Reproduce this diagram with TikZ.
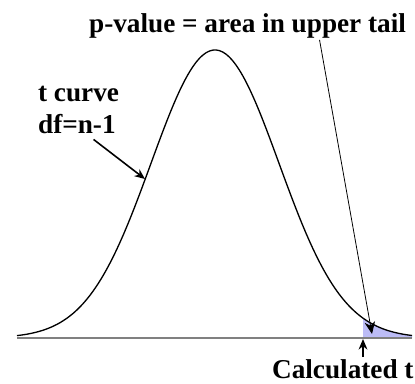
\documentclass[tikz,border=0pt]{standalone}
\usepackage{fontspec}
\setmainfont{Liberation Serif}
\usetikzlibrary{arrows.meta}
\definecolor{tailfill}{RGB}{188,188,246}

\begin{document}
\begin{tikzpicture}[x=0.02cm, y=-0.02cm,
    lbl/.style={inner sep=1pt, font=\bfseries\fontsize{15.5}{18}\selectfont},
    pointer/.style={-{Stealth[length=6pt, width=5pt]}}]
  \useasboundingbox (0,0) rectangle (415,383);

  % shaded upper tail
  \fill[tailfill] (363,338) -- plot[domain=363:412, samples=30]
    (\x, {338-288*exp(-((\x-215)/64)^2/2)}) -- (412,338) -- cycle;

  % axis and t curve
  \draw[gray, line width=1.1pt] (17,338) -- (412,338);
  \draw[line width=0.75pt] plot[domain=17:412, samples=120, smooth]
    (\x, {338-288*exp(-((\x-215)/64)^2/2)});

  \coordinate (curvept) at (145,179);
  \coordinate (tailpt) at (372,334);
  \coordinate (tstart) at (363,339);

  \node[lbl, anchor=base west] (pval) at (87,32) {p-value = area in upper tail};
  \node[lbl, anchor=north west, align=left] (tcurve) at (36,84) {t curve\\df=n-1};
  \node[lbl, anchor=base west] (calc) at (270,378) {Calculated t};

  \path (pval.south) ++(72,0) coordinate (pstart);
  \draw[pointer, line width=0.9pt] (tcurve.south) ++(15,4) -- (curvept);
  \draw[-{Stealth[length=7pt, width=6pt]}, line width=0.45pt] (pstart) -- (tailpt);
  \draw[pointer, line width=0.9pt] (calc.north -| tstart) -- (tstart);

\end{tikzpicture}
\end{document}
